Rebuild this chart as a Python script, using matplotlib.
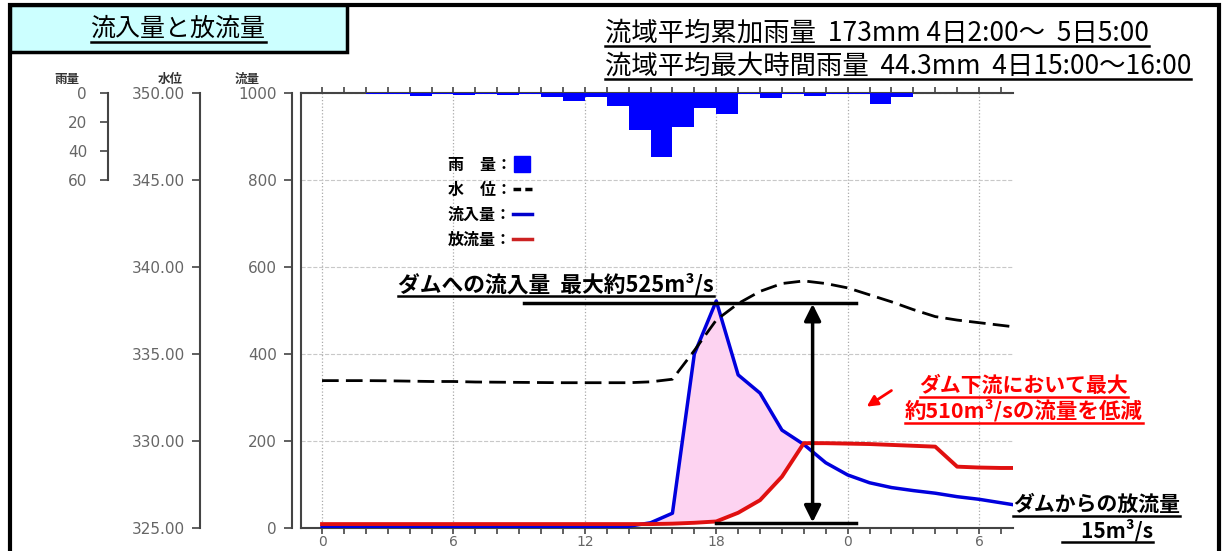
import matplotlib

matplotlib.use("Agg")
import matplotlib.pyplot as plt
import numpy as np
from matplotlib.lines import Line2D
from matplotlib.patches import Rectangle

W, H = 1223, 551
JP = ["Noto Sans CJK JP", "DejaVu Sans"]

# ---- data ----
hours = list(range(0, 33))
inflow = [2, 2, 2, 2, 2, 2, 2, 2, 2, 2, 2, 2, 2, 2, 4, 12, 34, 400, 522, 352, 310,
          225, 192, 150, 122, 104, 93, 86, 80, 72, 66, 58, 50]
outflow = [9, 9, 9, 9, 9, 9, 9, 9, 9, 9, 9, 9, 9, 9, 9, 9, 10, 12, 15, 35, 64,
           118, 195, 195, 194, 193, 191, 189, 187, 141, 139, 138, 138]
water_level = [333.47, 333.47, 333.47, 333.46, 333.44, 333.42, 333.42, 333.39, 333.38,
               333.37, 333.36, 333.35, 333.35, 333.35, 333.35, 333.40, 333.55, 335.20,
               336.95, 337.90, 338.60, 339.05, 339.20, 339.05, 338.80, 338.40, 338.00,
               337.55, 337.15, 336.95, 336.80, 336.65, 336.50]
rain_hours = list(range(2, 27))
rain_mm = [0.7, 0.7, 2.3, 0.5, 1.6, 0.5, 1.6, 0.5, 3.0, 5.3, 3.0, 9.2, 25.3, 44.3,
           23.7, 10.3, 14.5, 0.5, 3.4, 0.5, 2.3, 0.5, 0.5, 7.3, 2.8]

x_tick_pos = [0, 6, 12, 18, 24, 30]
x_tick_labels = ["0", "6", "12", "18", "0", "6"]
flow_ticks = [0, 200, 400, 600, 800, 1000]
level_ticks = [325, 330, 335, 340, 345, 350]
rain_ticks = [0, 20, 40, 60]

peak_inflow = 517
min_release = 11

legend_labels = ["雨\u3000量：", "水\u3000位：", "流入量：", "放流量："]

GRAY = "#666666"
SPINE = "#444444"


def fx(x):
    return x / W


def fy(y):
    return 1 - y / H


def main():
    fig = plt.figure(figsize=(W / 100, H / 100), dpi=100)

    # outer frame and title box
    fig.add_artist(Rectangle((fx(10), fy(560)), fx(1209), 555 / H, transform=fig.transFigure,
                             fill=False, edgecolor="black", lw=3))
    fig.add_artist(Rectangle((fx(10), fy(52)), fx(337), 47 / H, transform=fig.transFigure,
                             facecolor="#ccffff", edgecolor="black", lw=2.5))

    rect = [fx(301), fy(528), fx(712), 435 / H]
    ax = fig.add_axes(rect)
    ax.set_xlim(-0.96, 31.55)
    ax.set_ylim(0, 1000)

    # fill + flows
    hrs = np.array(hours)
    inf = np.array(inflow)
    outf = np.array(outflow)
    ax.fill_between(hrs, outf, inf, where=inf >= outf, interpolate=True,
                    facecolor="#fdd3f1", edgecolor="none", zorder=1)
    ax.plot(hours, inflow, color="#0000dd", lw=2.5, zorder=3)
    ax.plot(hours, outflow, color="#e01010", lw=2.8, zorder=3)

    # axes styling
    ax.set_xticks(x_tick_pos)
    ax.set_xticklabels(x_tick_labels)
    ax.set_xticks(range(0, 32), minor=True)
    ax.tick_params(axis="x", which="both", direction="out", length=4.5, width=1.2,
                   color=SPINE, top=True, labelsize=10, labelcolor=GRAY, pad=0.5)
    ax.set_yticks(flow_ticks)
    ax.set_yticklabels([str(v) for v in flow_ticks])
    ax.tick_params(axis="y", direction="out", length=6, width=1.2, color=SPINE,
                   labelsize=11, labelcolor=GRAY, pad=5)
    ax.spines["left"].set_position(("outward", 6.5))
    ax.spines["right"].set_visible(False)
    for s in ["left", "top", "bottom"]:
        ax.spines[s].set_color(SPINE)
        ax.spines[s].set_linewidth(1.5)
    ax.plot([0, 0], [0, 1], transform=ax.transAxes, color=SPINE, lw=1.5, clip_on=False)
    ax.grid(axis="x", which="major", linestyle=":", color="#aaaaaa", lw=0.9)
    ax.grid(axis="y", which="major", linestyle="--", color="#c8c8c8", lw=0.8)
    ax.set_axisbelow(True)

    # water level axis
    ax_lv = ax.twinx()
    ax_lv.set_ylim(325, 350)
    ax_lv.plot(hours, water_level, color="black", lw=2, dashes=(6, 2.6), zorder=4)
    ax_lv.yaxis.tick_left()
    ax_lv.set_yticks(level_ticks)
    ax_lv.set_yticklabels([f"{v:.2f}" for v in level_ticks])
    ax_lv.tick_params(axis="y", direction="out", length=6, width=1.2, color=SPINE,
                      labelsize=11, labelcolor=GRAY, pad=5)
    for s in ["right", "top", "bottom"]:
        ax_lv.spines[s].set_visible(False)
    ax_lv.spines["left"].set_visible(True)
    ax_lv.spines["left"].set_position(("outward", 72.7))
    ax_lv.spines["left"].set_color(SPINE)
    ax_lv.spines["left"].set_linewidth(1.5)

    # rain axis (top band)
    ax_r = fig.add_axes([fx(301), fy(180), fx(712), 87 / H])
    ax_r.patch.set_visible(False)
    ax_r.set_xlim(ax.get_xlim())
    ax_r.set_ylim(60, 0)
    ax_r.bar(rain_hours, rain_mm, width=1.0, align="edge", color="#0000ff", zorder=2)
    ax_r.set_xticks([])
    ax_r.set_yticks(rain_ticks)
    ax_r.set_yticklabels([str(v) for v in rain_ticks])
    ax_r.tick_params(axis="y", direction="out", length=6, width=1.2, color=SPINE,
                     labelsize=11, labelcolor=GRAY, pad=9)
    for s in ["right", "top", "bottom"]:
        ax_r.spines[s].set_visible(False)
    ax_r.spines["left"].set_position(("outward", 139))
    ax_r.spines["left"].set_color(SPINE)
    ax_r.spines["left"].set_linewidth(1.5)

    # axis headers
    for label, x in [("雨量", 67), ("水位", 170), ("流量", 247)]:
        fig.text(fx(x), fy(79), label, family=JP, fontsize=9, fontweight="bold",
                 color="#333333", ha="center", va="center")

    # annotations on the plot
    ax.plot([9.2, 24.4], [peak_inflow, peak_inflow], color="black", lw=2.5, zorder=5)
    ax.plot([18, 24.4], [min_release, min_release], color="black", lw=2.5, zorder=5)
    ax.annotate("", xy=(22.4, min_release + 2), xytext=(22.4, peak_inflow - 2),
                arrowprops=dict(arrowstyle="<|-|>", color="black", lw=2.5,
                                mutation_scale=25, shrinkA=0, shrinkB=0), zorder=6)
    ax.annotate("", xy=(24.87, 279), xytext=(26.0, 316),
                arrowprops=dict(arrowstyle="-|>", color="#ff0000", lw=2,
                                mutation_scale=16, shrinkA=0, shrinkB=0))

    # legend
    handles = [
        Line2D([], [], marker="s", linestyle="none", markersize=11,
               markerfacecolor="#0000ff", markeredgecolor="#0000ff"),
        Line2D([], [], color="black", lw=2.5, dashes=(2.2, 1.2)),
        Line2D([], [], color="#0000cc", lw=2.5),
        Line2D([], [], color="#cc2222", lw=2.5),
    ]
    fig.legend(handles, legend_labels, loc="upper left",
               bbox_to_anchor=(fx(440), fy(149)), bbox_transform=fig.transFigure,
               frameon=False, markerfirst=False, borderpad=0, handlelength=1.2,
               handletextpad=0.05, labelspacing=0.55,
               prop={"family": JP, "size": 11.5, "weight": "bold"})

    # texts with underlines: (text, x, y, ha, size, weight, color, underline_y)
    texts = [
        ("流入量と放流量", 178, 29, "center", 18, "normal", "black", 42),
        ("流域平均累加雨量  173mm 4日2:00～  5日5:00", 605, 33, "left", 19, "normal", "black", 46),
        ("流域平均最大時間雨量  44.3mm  4日15:00～16:00", 605, 66, "left", 19, "normal", "black", 79),
        ("ダムへの流入量  最大約525m³/s", 398, 285, "left", 15.7, "bold", "black", 296),
        ("ダム下流において最大", 1024, 385, "center", 15, "bold", "#ff0000", 397),
        ("約510m³/sの流量を低減", 1024, 410, "center", 15.5, "bold", "#ff0000", 423),
        ("ダムからの放流量", 1013, 504, "left", 15, "bold", "black", 516),
        ("    15m³/s", 1062, 530, "left", 15, "bold", "black", 542),
    ]
    artists = []
    for s, x, y, ha, size, weight, color, uy in texts:
        t = fig.text(fx(x), fy(y), s, family=JP, fontsize=size, fontweight=weight,
                     color=color, ha=ha, va="center")
        artists.append((t, color, uy))

    fig.canvas.draw()
    renderer = fig.canvas.get_renderer()
    for t, color, uy in artists:
        bb = t.get_window_extent(renderer)
        fig.add_artist(Line2D([bb.x0 / W, bb.x1 / W], [fy(uy), fy(uy)],
                              transform=fig.transFigure, color=color, lw=1.8))

    fig.savefig("out.png", dpi=100)
    plt.close(fig)


if __name__ == "__main__":
    main()
